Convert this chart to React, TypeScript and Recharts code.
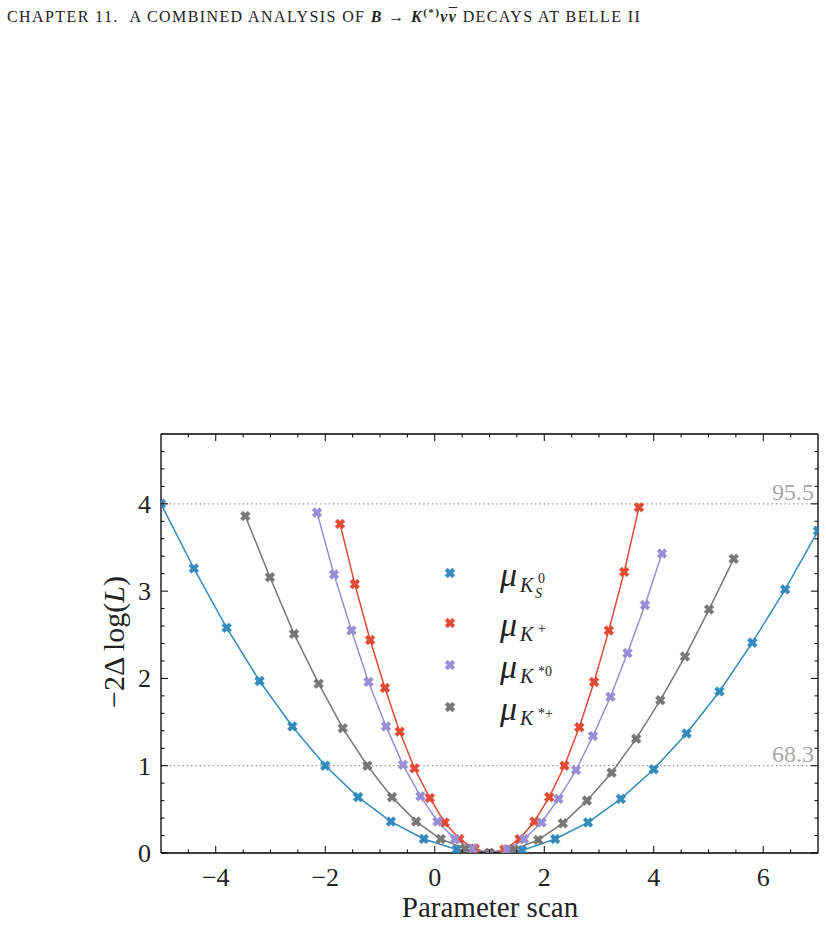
import { Line, LineChart, ReferenceLine, XAxis, YAxis } from "recharts";

const FONT = "'Liberation Serif', 'DejaVu Serif', serif";

const BLUE = "#348ABD";
const RED = "#E24A33";
const PURPLE = "#988ED5";
const GREY = "#777777";

// scan points
const KS0_X = [-5.0, -4.4, -3.8, -3.2, -2.6, -2.0, -1.4, -0.8, -0.2, 0.4, 1.0, 1.6, 2.2, 2.8, 3.4, 4.0, 4.6, 5.2, 5.8, 6.4, 7.0];
const KS0_Y = [4.0, 3.26, 2.58, 1.97, 1.45, 1.0, 0.64, 0.36, 0.16, 0.04, 0.0, 0.03, 0.16, 0.35, 0.62, 0.96, 1.37, 1.85, 2.41, 3.02, 3.69];

const KP_X = [-1.73, -1.46, -1.18, -0.91, -0.64, -0.37, -0.09, 0.18, 0.45, 0.73, 1.0, 1.27, 1.55, 1.82, 2.09, 2.37, 2.64, 2.91, 3.18, 3.46, 3.73];
const KP_Y = [3.77, 3.08, 2.44, 1.89, 1.39, 0.97, 0.63, 0.35, 0.16, 0.05, 0.0, 0.04, 0.16, 0.36, 0.64, 1.0, 1.44, 1.96, 2.55, 3.22, 3.96];

const KST0_X = [-2.15, -1.84, -1.52, -1.21, -0.89, -0.58, -0.26, 0.05, 0.37, 0.69, 1.0, 1.32, 1.63, 1.95, 2.26, 2.58, 2.89, 3.21, 3.52, 3.84, 4.15];
const KST0_Y = [3.9, 3.19, 2.55, 1.96, 1.45, 1.01, 0.65, 0.36, 0.16, 0.05, 0.0, 0.04, 0.16, 0.35, 0.62, 0.95, 1.34, 1.79, 2.29, 2.84, 3.43];

const KSTP_X = [-3.46, -3.01, -2.57, -2.12, -1.68, -1.23, -0.78, -0.34, 0.11, 0.55, 1.0, 1.45, 1.89, 2.34, 2.78, 3.23, 3.68, 4.12, 4.57, 5.01, 5.46];
const KSTP_Y = [3.86, 3.16, 2.51, 1.94, 1.43, 1.0, 0.64, 0.36, 0.16, 0.05, 0.0, 0.04, 0.15, 0.34, 0.6, 0.92, 1.31, 1.75, 2.25, 2.79, 3.37];

const X_MAJOR = [-4, -2, 0, 2, 4, 6];
const X_MINOR = [-4.5, -3.5, -3, -2.5, -1.5, -1, -0.5, 0.5, 1, 1.5, 2.5, 3, 3.5, 4.5, 5, 5.5, 6.5];
const Y_MAJOR = [0, 1, 2, 3, 4];
const Y_MINOR = [0.2, 0.4, 0.6, 0.8, 1.2, 1.4, 1.6, 1.8, 2.2, 2.4, 2.6, 2.8, 3.2, 3.4, 3.6, 3.8, 4.2, 4.4, 4.6];

const CL_LINES = [
  { y: 1, label: "68.3" },
  { y: 4, label: "95.5" },
];

const zip = (xs: number[], ys: number[]) => xs.map((x, i) => ({ x, y: ys[i] }));

const SERIES = [
  { name: "KS0", color: BLUE, data: zip(KS0_X, KS0_Y), sup: "0", sub: "S" },
  { name: "K+", color: RED, data: zip(KP_X, KP_Y), sup: "+", sub: "" },
  { name: "K*0", color: PURPLE, data: zip(KST0_X, KST0_Y), sup: "*0", sub: "" },
  { name: "K*+", color: GREY, data: zip(KSTP_X, KSTP_Y), sup: "*+", sub: "" },
];

const fmt = (v: number) => (v < 0 ? `\u2212${-v}` : `${v}`);

function XMark({ cx, cy, color }: { cx?: number; cy?: number; color: string }) {
  if (cx == null || cy == null) return null;
  const s = 5.2;
  const t = 1.9;
  const base = [[-t, -s], [t, -s], [t, -t], [s, -t], [s, t], [t, t], [t, s], [-t, s], [-t, t], [-s, t], [-s, -t], [-t, -t]];
  const c = Math.SQRT1_2;
  const pts = base.map(([x, y]) => `${cx + (x - y) * c},${cy + (x + y) * c}`).join(" ");
  return <polygon points={pts} fill={color} stroke={color} strokeWidth={0.6} strokeOpacity={0.5} />;
}

function BottomTick(props: any) {
  const { x, y, payload } = props;
  const major = X_MAJOR.includes(payload.value);
  return (
    <g>
      <line x1={x} x2={x} y1={y} y2={y - (major ? 7 : 3.5)} stroke="#000" strokeWidth={1} />
      {major && (
        <text x={x} y={y + 33} textAnchor="middle" fontSize={26} fontFamily={FONT} fill="#222">
          {fmt(payload.value)}
        </text>
      )}
    </g>
  );
}

function TopTick(props: any) {
  const { x, y, payload } = props;
  const major = X_MAJOR.includes(payload.value);
  return <line x1={x} x2={x} y1={y} y2={y + (major ? 7 : 3.5)} stroke="#000" strokeWidth={1} />;
}

function LeftTick(props: any) {
  const { x, y, payload } = props;
  const major = Y_MAJOR.includes(payload.value);
  return (
    <g>
      <line x1={x} x2={x + (major ? 7 : 3.5)} y1={y} y2={y} stroke="#000" strokeWidth={1} />
      {major && (
        <text x={x - 10} y={y + 9} textAnchor="end" fontSize={26} fontFamily={FONT} fill="#222">
          {payload.value}
        </text>
      )}
    </g>
  );
}

function RightTick(props: any) {
  const { x, y, payload } = props;
  const major = Y_MAJOR.includes(payload.value);
  return <line x1={x} x2={x - (major ? 7 : 3.5)} y1={y} y2={y} stroke="#000" strokeWidth={1} />;
}

// legend row anchors (marker centre y)
const LEGEND_Y = [573, 623, 665, 707];

export default function App() {
  const xTicks = [...X_MAJOR, ...X_MINOR].sort((a, b) => a - b);
  const yTicks = [...Y_MAJOR, ...Y_MINOR].sort((a, b) => a - b);
  const axisLine = { stroke: "#000", strokeWidth: 1.3 };

  return (
    <div style={{ position: "absolute", left: 0, top: 0, width: 826, height: 926, background: "#fff", fontFamily: FONT }}>
      <div style={{ position: "absolute", left: 7, top: 6, fontSize: 16, letterSpacing: 1.4, color: "#222", whiteSpace: "nowrap" }}>
        CHAPTER 11.&nbsp;&nbsp;A COMBINED ANALYSIS OF{" "}
        <b>
          <i>B</i> → <i>K</i>
          <sup style={{ fontSize: 11 }}>(*)</sup>
          <i>ν</i>
          <i style={{ textDecoration: "overline" }}>ν</i>
        </b>{" "}
        DECAYS AT BELLE II
      </div>

      <LineChart width={826} height={926} margin={{ top: 404, right: 0, bottom: 43, left: 111 }}>
        <XAxis
          xAxisId={0}
          type="number"
          dataKey="x"
          domain={[-5, 7]}
          ticks={xTicks}
          interval={0}
          allowDataOverflow
          height={30}
          tickSize={0}
          tickMargin={0}
          tickLine={false}
          axisLine={axisLine}
          tick={<BottomTick />}
        />
        <XAxis
          xAxisId="top"
          orientation="top"
          type="number"
          dataKey="x"
          domain={[-5, 7]}
          ticks={xTicks}
          interval={0}
          allowDataOverflow
          height={30}
          tickSize={0}
          tickMargin={0}
          tickLine={false}
          axisLine={axisLine}
          tick={<TopTick />}
        />
        <YAxis
          yAxisId={0}
          type="number"
          domain={[0, 4.8]}
          ticks={yTicks}
          interval={0}
          allowDataOverflow
          width={50}
          tickSize={0}
          tickMargin={0}
          tickLine={false}
          axisLine={axisLine}
          tick={<LeftTick />}
        />
        <YAxis
          yAxisId="right"
          orientation="right"
          type="number"
          domain={[0, 4.8]}
          ticks={yTicks}
          interval={0}
          allowDataOverflow
          width={8}
          tickSize={0}
          tickMargin={0}
          tickLine={false}
          axisLine={axisLine}
          tick={<RightTick />}
        />
        {CL_LINES.map((r) => (
          <ReferenceLine
            key={r.label}
            y={r.y}
            stroke="#8a8a8a"
            strokeWidth={1.3}
            strokeDasharray="1.3 3"
            label={{ value: r.label, position: "insideBottomRight", offset: 4, fill: "#a8a8a8", fontSize: 24, fontFamily: FONT }}
          />
        ))}
        {SERIES.map((s) => (
          <Line
            key={s.name}
            data={s.data}
            dataKey="y"
            type="linear"
            stroke={s.color}
            strokeWidth={1.5}
            isAnimationActive={false}
            activeDot={false}
            dot={(p: any) => <XMark key={`${s.name}-${p.index}`} cx={p.cx} cy={p.cy} color={s.color} />}
          />
        ))}
      </LineChart>

      <svg
        width={826}
        height={926}
        style={{ position: "absolute", left: 0, top: 0, pointerEvents: "none" }}
        fontFamily={FONT}
        fill="#222"
      >
        {SERIES.map((s, i) => {
          const y0 = LEGEND_Y[i];
          return (
            <g key={s.name}>
              <XMark cx={450} cy={y0} color={s.color} />
              <text x={500} y={y0 + 13} fontSize={34} fontStyle="italic">
                μ
              </text>
              <text x={520} y={y0 + (s.sub ? 19 : 18)} fontSize={20} fontStyle="italic">
                K
              </text>
              <text x={538} y={y0 + (s.sup.length > 1 ? 11 : 10)} fontSize={14}>
                {s.sup}
              </text>
              {s.sub && (
                <text x={535} y={y0 + 25} fontSize={14} fontStyle="italic">
                  {s.sub}
                </text>
              )}
            </g>
          );
        })}
        <text transform="translate(124,642) rotate(-90)" textAnchor="middle" fontSize={30}>
          −2Δ log(<tspan fontStyle="italic">L</tspan>)
        </text>
        <text x={490} y={917} textAnchor="middle" fontSize={29}>
          Parameter scan
        </text>
      </svg>
    </div>
  );
}
